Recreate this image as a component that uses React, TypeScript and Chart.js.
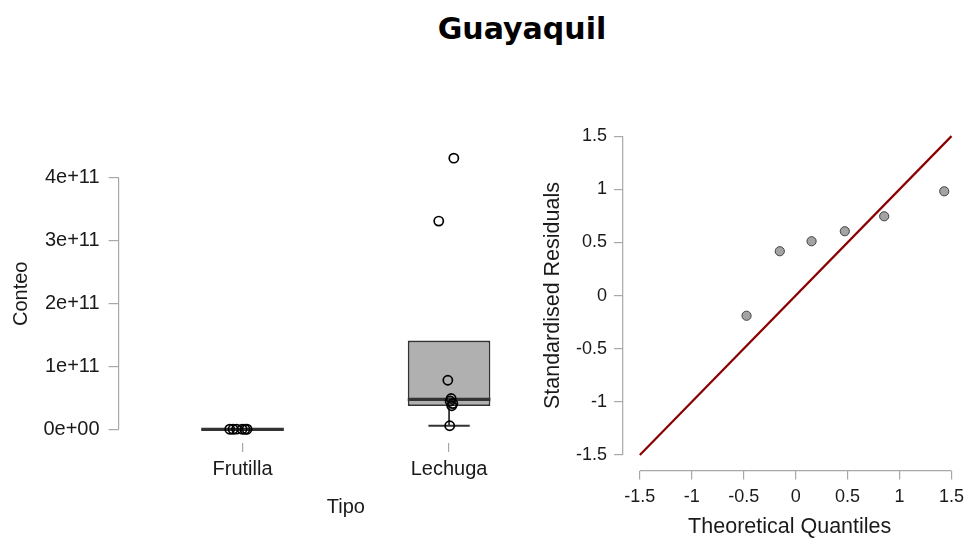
import React, { useEffect, useRef } from 'react';
import { Chart, registerables } from 'chart.js';

Chart.register(...registerables);

// ---------- Left panel: box plot ----------
const categories = ['Frutilla', 'Lechuga'];
const categoryPositions = [1, 2];
const countTickValues = [0, 1e11, 2e11, 3e11, 4e11];
const countTickLabels = ['0e+00', '1e+11', '2e+11', '3e+11', '4e+11'];

const boxQ1 = [0, 0.37e11];
const boxMedian = [0, 0.477e11];
const boxQ3 = [0, 1.41e11];
const whiskerLow = [0, 0.057e11];
const whiskerHigh = [0, 1.41e11];

const frutillaX = [0.938, 0.954, 0.971, 0.998, 1.012, 1.022];
const frutillaValues = [0.002e11, 0.001e11, 0.003e11, 0.002e11, 0.001e11, 0.002e11];
const lechugaX = [2.023, 1.95, 1.994, 2.01, 2.005, 2.018, 2.013, 2.003];
const lechugaValues = [4.31e11, 3.31e11, 0.78e11, 0.49e11, 0.45e11, 0.41e11, 0.375e11, 0.057e11];

// ---------- Right panel: Q-Q plot ----------
const qqTheoretical = [-0.473, -0.153, 0.153, 0.473, 0.852, 1.43];
const qqResiduals = [-0.19, 0.417, 0.511, 0.605, 0.746, 0.981];
const refLineX = [-1.5, 1.5];
const refLineY = [-1.5, 1.5];
const qqTickValues = [-1.5, -1, -0.5, 0, 0.5, 1, 1.5];
const qqTickLabels = ['-1.5', '-1', '-0.5', '0', '0.5', '1', '1.5'];

const FONT = '"Liberation Sans", Arial, sans-serif';
const TEXT = '#1a1a1a';
const AXIS = '#a8a8a8';

const axisLinesPlugin = {
  id: 'axisLines',
  afterDraw(chart: any, _args: any, opts: any) {
    const ctx = chart.ctx;
    ctx.save();
    ctx.strokeStyle = opts.color;
    ctx.lineWidth = opts.width;
    for (const id of opts.axes || []) {
      const s = chart.scales[id];
      const vals = s.ticks.map((t: any) => t.value);
      const a = s.getPixelForValue(Math.min(...vals));
      const b = s.getPixelForValue(Math.max(...vals));
      ctx.beginPath();
      if (s.isHorizontal()) {
        ctx.moveTo(a, s.top);
        ctx.lineTo(b, s.top);
      } else {
        ctx.moveTo(s.right, a);
        ctx.lineTo(s.right, b);
      }
      ctx.stroke();
    }
    ctx.restore();
  },
};

const boxPlugin = {
  id: 'boxWhiskers',
  afterDatasetDraw(chart: any, args: any) {
    if (args.index !== 0) return;
    const { ctx } = chart;
    const x = chart.scales.x;
    const y = chart.scales.y;
    ctx.save();
    ctx.strokeStyle = '#333333';
    categoryPositions.forEach((pos, i) => {
      const cx = x.getPixelForValue(pos);
      const boxL = x.getPixelForValue(pos - 0.2);
      const boxR = x.getPixelForValue(pos + 0.2);
      const capL = x.getPixelForValue(pos - 0.1);
      const capR = x.getPixelForValue(pos + 0.1);
      ctx.lineWidth = 1.8;
      ctx.beginPath();
      if (whiskerLow[i] < boxQ1[i]) {
        ctx.moveTo(cx, y.getPixelForValue(boxQ1[i]));
        ctx.lineTo(cx, y.getPixelForValue(whiskerLow[i]));
        ctx.moveTo(capL, y.getPixelForValue(whiskerLow[i]));
        ctx.lineTo(capR, y.getPixelForValue(whiskerLow[i]));
      }
      if (whiskerHigh[i] > boxQ3[i]) {
        ctx.moveTo(cx, y.getPixelForValue(boxQ3[i]));
        ctx.lineTo(cx, y.getPixelForValue(whiskerHigh[i]));
        ctx.moveTo(capL, y.getPixelForValue(whiskerHigh[i]));
        ctx.lineTo(capR, y.getPixelForValue(whiskerHigh[i]));
      }
      ctx.stroke();
      ctx.lineWidth = 3.4;
      ctx.beginPath();
      ctx.moveTo(boxL, y.getPixelForValue(boxMedian[i]));
      ctx.lineTo(boxR, y.getPixelForValue(boxMedian[i]));
      ctx.stroke();
    });
    ctx.restore();
  },
};

function setTicks(values: number[]) {
  return (axis: any) => {
    axis.ticks = values.map((v) => ({ value: v }));
  };
}

function fixSize(dim: 'width' | 'height', value: number) {
  return (s: any) => {
    s[dim] = value;
    s.paddingLeft = 0;
    s.paddingRight = 0;
    s.paddingTop = 0;
    s.paddingBottom = 0;
  };
}

function leftConfig(): any {
  return {
    type: 'scatter',
    data: {
      datasets: [
        {
          type: 'bar',
          data: categoryPositions.map((p, i) => ({ x: p, y: [boxQ1[i], boxQ3[i]] })),
          backgroundColor: '#b0b0b0',
          borderColor: '#333333',
          borderWidth: 1.8,
          borderSkipped: false,
          barPercentage: 0.4,
          categoryPercentage: 1,
          order: 2,
        },
        {
          type: 'scatter',
          data: [
            ...frutillaX.map((x, i) => ({ x, y: frutillaValues[i] })),
            ...lechugaX.map((x, i) => ({ x, y: lechugaValues[i] })),
          ],
          backgroundColor: 'rgba(0,0,0,0)',
          borderColor: '#000000',
          borderWidth: 1.7,
          pointRadius: 4.6,
          order: 1,
        },
      ],
    },
    options: {
      animation: false,
      responsive: false,
      devicePixelRatio: 1,
      events: [],
      layout: { padding: { left: 0, right: 392, top: 144.6, bottom: 0 } },
      plugins: {
        legend: { display: false },
        tooltip: { enabled: false },
        axisLines: { axes: ['y'], color: AXIS, width: 1.2 },
      },
      scales: {
        x: {
          type: 'linear',
          min: 0.4,
          max: 2.6,
          offset: false,
          afterBuildTicks: setTicks(categoryPositions),
          afterFit: fixSize('height', 95.1),
          ticks: {
            font: { family: FONT, size: 20 },
            color: TEXT,
            padding: 5.5,
            autoSkip: false,
            maxRotation: 0,
            callback: (v: number) => categories[categoryPositions.indexOf(v)] ?? '',
          },
          grid: { offset: false, drawOnChartArea: false, tickLength: 9, tickColor: AXIS, lineWidth: 1.2 },
          border: { display: false },
          title: {
            display: true,
            text: 'Tipo',
            color: TEXT,
            font: { family: FONT, size: 20 },
            padding: { top: 0, bottom: 19 },
          },
        },
        y: {
          type: 'linear',
          min: -0.2155e11,
          max: 4.5255e11,
          afterBuildTicks: setTicks(countTickValues),
          afterFit: fixSize('width', 118.6),
          ticks: {
            font: { family: FONT, size: 20 },
            color: TEXT,
            padding: 9,
            autoSkip: false,
            callback: (v: number) => countTickLabels[countTickValues.indexOf(v)] ?? '',
          },
          grid: { drawOnChartArea: false, tickLength: 10, tickColor: AXIS, lineWidth: 1.2 },
          border: { display: false },
          title: {
            display: true,
            text: 'Conteo',
            color: TEXT,
            font: { family: FONT, size: 20 },
            padding: { top: 9.5, bottom: 0 },
          },
        },
      },
    },
    plugins: [boxPlugin, axisLinesPlugin],
  };
}

function rightConfig(): any {
  return {
    type: 'scatter',
    data: {
      datasets: [
        {
          type: 'line',
          data: refLineX.map((x, i) => ({ x, y: refLineY[i] })),
          borderColor: '#8b0000',
          borderWidth: 2.2,
          pointRadius: 0,
          fill: false,
          order: 2,
        },
        {
          type: 'scatter',
          data: qqTheoretical.map((x, i) => ({ x, y: qqResiduals[i] })),
          backgroundColor: '#a3a3a3',
          borderColor: '#404040',
          borderWidth: 1,
          pointRadius: 4.6,
          order: 1,
        },
      ],
    },
    options: {
      animation: false,
      responsive: false,
      devicePixelRatio: 1,
      events: [],
      layout: { padding: { left: 530, right: 8.3, top: 120.4, bottom: 0 } },
      plugins: {
        legend: { display: false },
        tooltip: { enabled: false },
        axisLines: { axes: ['x', 'y'], color: AXIS, width: 1.2 },
      },
      scales: {
        x: {
          type: 'linear',
          min: -1.665,
          max: 1.55,
          afterBuildTicks: setTicks(qqTickValues),
          afterFit: fixSize('height', 67.3),
          ticks: {
            font: { family: FONT, size: 18 },
            color: TEXT,
            padding: 6.5,
            autoSkip: false,
            maxRotation: 0,
            callback: (v: number) => qqTickLabels[qqTickValues.indexOf(v)] ?? '',
          },
          grid: { drawOnChartArea: false, tickLength: 8.7, tickColor: AXIS, lineWidth: 1.2 },
          border: { display: false },
          title: {
            display: true,
            text: 'Theoretical Quantiles',
            color: TEXT,
            font: { family: FONT, size: 21.5 },
            padding: { top: 0, bottom: -2 },
          },
        },
        y: {
          type: 'linear',
          min: -1.648,
          max: 1.648,
          afterBuildTicks: setTicks(qqTickValues),
          afterFit: fixSize('width', 92.7),
          ticks: {
            font: { family: FONT, size: 18 },
            color: TEXT,
            padding: 7,
            autoSkip: false,
            callback: (v: number) => qqTickLabels[qqTickValues.indexOf(v)] ?? '',
          },
          grid: { drawOnChartArea: false, tickLength: 8.7, tickColor: AXIS, lineWidth: 1.2 },
          border: { display: false },
          title: {
            display: true,
            text: 'Standardised Residuals',
            color: TEXT,
            font: { family: FONT, size: 21.5 },
            padding: { top: 10, bottom: 0 },
          },
        },
      },
    },
    plugins: [axisLinesPlugin],
  };
}

export default function App() {
  const leftRef = useRef<HTMLCanvasElement>(null);
  const rightRef = useRef<HTMLCanvasElement>(null);

  useEffect(() => {
    const left = new Chart(leftRef.current as HTMLCanvasElement, leftConfig());
    const right = new Chart(rightRef.current as HTMLCanvasElement, rightConfig());
    return () => {
      left.destroy();
      right.destroy();
    };
  }, []);

  const canvasStyle: React.CSSProperties = { position: 'absolute', left: 0, top: 0, display: 'block' };

  return (
    <div
      style={{
        position: 'absolute',
        left: 0,
        top: 0,
        width: 965,
        height: 538,
        background: '#ffffff',
        overflow: 'hidden',
      }}
    >
      <div
        style={{
          position: 'absolute',
          left: 372,
          top: 9,
          width: 300,
          textAlign: 'center',
          fontFamily: '"DejaVu Sans", sans-serif',
          fontWeight: 'bold',
          fontSize: 30,
          lineHeight: '40px',
          color: '#000000',
        }}
      >
        Guayaquil
      </div>
      <canvas ref={leftRef} width={965} height={538} style={canvasStyle} />
      <canvas ref={rightRef} width={965} height={538} style={canvasStyle} />
    </div>
  );
}
